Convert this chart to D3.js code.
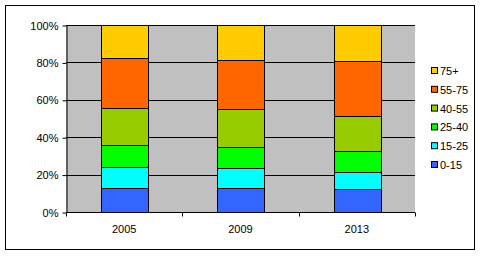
<!DOCTYPE html>
<html>
<head>
<meta charset="utf-8">
<script src="https://cdn.jsdelivr.net/npm/d3@7"></script>
<style>
  body { margin: 0; background: #fff; }
  svg { display: block; font-family: "Liberation Sans", Arial, sans-serif; }
</style>
</head>
<body>
<div id="chart"></div>
<script>
// Data
const years = ['2005', '2009', '2013'];
const groups = ['0-15', '15-25', '25-40', '40-55', '55-75', '75+'];
const colors = ['#3366FF', '#00FFFF', '#00FF00', '#99CC00', '#FF6600', '#FFCC00'];
const share0_15 = [12.7, 12.7, 12.1];
const share15_25 = [11.2, 10.7, 9.5];
const share25_40 = [11.8, 11.2, 10.9];
const share40_55 = [19.7, 20.3, 19.0];
const share55_75 = [26.7, 26.2, 29.1];
const share75 = [17.9, 18.9, 19.4];
const yTicks = [0, 0.2, 0.4, 0.6, 0.8, 1];

const seriesValues = [share0_15, share15_25, share25_40, share40_55, share55_75, share75];

const width = 488, height = 256;
const margin = { left: 66, top: 25, right: 73, bottom: 44 };

const svg = d3.select('#chart')
  .append('svg')
  .attr('width', width)
  .attr('height', height);

// Outer border
svg.append('rect')
  .attr('x', 5.5).attr('y', 5.5)
  .attr('width', 469).attr('height', 244)
  .attr('fill', '#fff')
  .attr('stroke', '#000')
  .attr('stroke-width', 1);

const x = d3.scaleBand()
  .domain(years)
  .range([margin.left, width - margin.right])
  .paddingInner(0.6)
  .paddingOuter(0.3);

const y = d3.scaleLinear()
  .domain([0, 1])
  .range([height - margin.bottom, margin.top]);

// Plot background
svg.append('rect')
  .attr('x', margin.left)
  .attr('y', margin.top)
  .attr('width', width - margin.right - margin.left)
  .attr('height', y(0) - y(1))
  .attr('fill', '#C0C0C0');

// Gridlines
svg.append('g')
  .selectAll('line')
  .data(yTicks.slice(1))
  .enter()
  .append('line')
  .attr('x1', margin.left)
  .attr('x2', width - margin.right)
  .attr('y1', d => Math.round(y(d)) + 0.5)
  .attr('y2', d => Math.round(y(d)) + 0.5)
  .attr('stroke', '#000');

// Stack data as percentages
const rows = years.map((yr, i) => {
  const row = { year: yr };
  const total = d3.sum(seriesValues, s => s[i]);
  groups.forEach((g, j) => { row[g] = seriesValues[j][i] / total; });
  return row;
});
const stacked = d3.stack().keys(groups)(rows);

svg.append('g')
  .selectAll('g')
  .data(stacked)
  .enter()
  .append('g')
  .attr('fill', (d, i) => colors[i])
  .selectAll('rect')
  .data(d => d)
  .enter()
  .append('rect')
  .attr('x', d => Math.round(x(d.data.year)) + 0.5)
  .attr('width', Math.round(x.bandwidth()))
  .attr('y', d => Math.round(y(d[1])) + 0.5)
  .attr('height', d => Math.round(y(d[0])) - Math.round(y(d[1])))
  .attr('stroke', '#000')
  .attr('stroke-width', 1);

// Y axis
const yAxis = svg.append('g')
  .attr('transform', `translate(${margin.left + 0.5},0.5)`)
  .call(d3.axisLeft(y).tickValues(yTicks).tickFormat(d3.format('.0%')).tickSize(4).tickSizeOuter(0));
yAxis.selectAll('text').attr('font-size', 11).attr('font-family', 'Liberation Sans, Arial, sans-serif').attr('fill', '#000').attr('dx', -1);
yAxis.selectAll('line, path').attr('stroke', '#000');

// X axis with ticks at category boundaries
const xAxisY = Math.round(y(0)) + 0.5;
svg.append('line')
  .attr('x1', margin.left).attr('x2', width - margin.right)
  .attr('y1', xAxisY).attr('y2', xAxisY)
  .attr('stroke', '#000');
const step = (width - margin.right - margin.left) / years.length;
svg.append('g')
  .selectAll('line')
  .data(d3.range(years.length + 1))
  .enter()
  .append('line')
  .attr('x1', d => Math.round(margin.left + d * step) + 0.5)
  .attr('x2', d => Math.round(margin.left + d * step) + 0.5)
  .attr('y1', xAxisY)
  .attr('y2', xAxisY + 4)
  .attr('stroke', '#000');
svg.append('g')
  .selectAll('text')
  .data(years)
  .enter()
  .append('text')
  .attr('x', d => x(d) + x.bandwidth() / 2)
  .attr('y', xAxisY + 20)
  .attr('text-anchor', 'middle')
  .attr('font-size', 11)
  .text(d => d);

// Legend (reversed order)
const legend = svg.append('g')
  .selectAll('g')
  .data(groups.map((g, i) => ({ g, c: colors[i] })).reverse())
  .enter()
  .append('g')
  .attr('transform', (d, i) => `translate(431,${67 + i * 18.8})`);
legend.append('rect')
  .attr('x', 0.5).attr('y', 0.5)
  .attr('width', 6).attr('height', 6)
  .attr('fill', d => d.c)
  .attr('stroke', '#000');
legend.append('text')
  .attr('x', 9)
  .attr('y', 8)
  .attr('font-size', 11)
  .text(d => d.g);
</script>
</body>
</html>
